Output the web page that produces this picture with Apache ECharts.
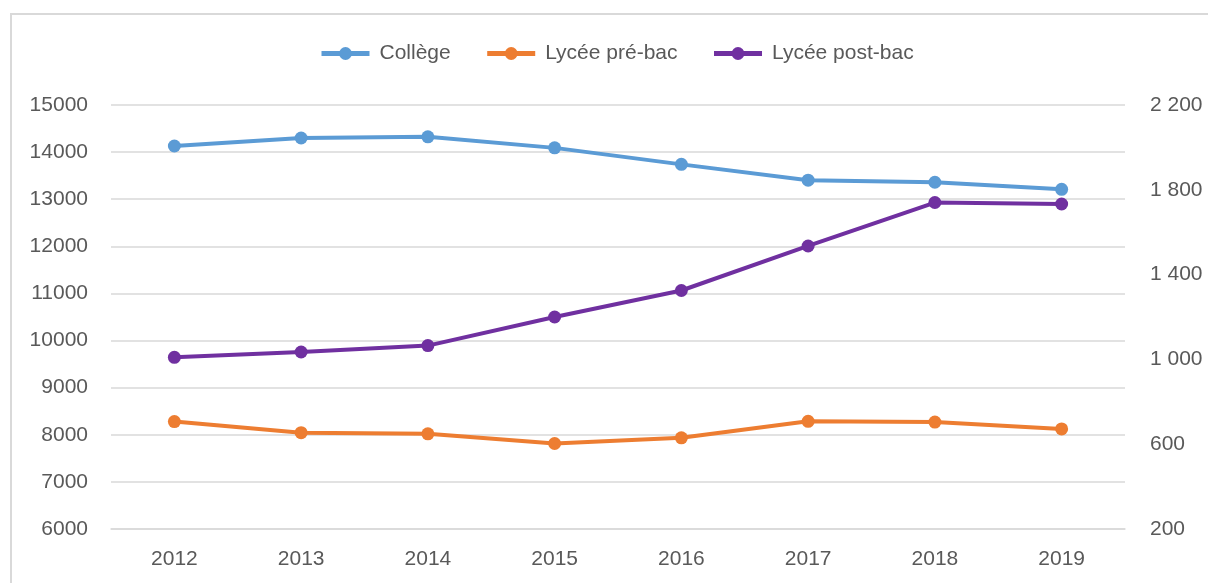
<!DOCTYPE html>
<html>
<head>
<meta charset="utf-8">
<script src="https://cdn.jsdelivr.net/npm/echarts@6/dist/echarts.min.js"></script>
<style>
  html, body { margin: 0; padding: 0; background: #fff; }
  #chart { width: 1208px; height: 583px; }
</style>
</head>
<body>
<div id="chart"></div>
<script>
// données
const years = ['2012', '2013', '2014', '2015', '2016', '2017', '2018', '2019']
const college = [14130, 14300, 14325, 14090, 13740, 13405, 13360, 13210]
const lyceePreBac = [8280, 8045, 8020, 7815, 7935, 8285, 8270, 8125]
const lyceePostBac = [1010, 1035, 1065, 1200, 1325, 1535, 1740, 1733]

const fontFamily = '"Liberation Sans", Arial, sans-serif'
const textColor = '#595959'

let mycharts = echarts.init(document.getElementById('chart'))

function lineSerie(name, data, color, axis) {
  return {
    name: name,
    type: 'line',
    data: data,
    yAxisIndex: axis,
    symbol: 'circle',
    symbolSize: 13,
    lineStyle: { width: 4, color: color },
    itemStyle: { color: color },
    emphasis: { disabled: true },
  }
}

mycharts.setOption({
  animation: false,
  textStyle: { fontFamily: fontFamily },
  //cadre gris
  graphic: [
    {
      type: 'rect',
      shape: { x: 11, y: 14, width: 1300, height: 700 },
      style: { fill: 'none', stroke: '#d9d9d9', lineWidth: 2 },
      silent: true,
    },
  ],
  legend: {
    top: 38,
    left: 314,
    itemWidth: 48,
    itemHeight: 16,
    itemGap: 34,
    lineStyle: { width: 5 },
    textStyle: { fontSize: 21, color: textColor, fontFamily: fontFamily, padding: [0, 0, 0, 5] },
  },
  grid: {
    left: 111,
    right: 83,
    top: 105,
    bottom: 54,
  },
  xAxis: {
    type: 'category',
    data: years,
    axisLine: { show: true, lineStyle: { color: '#d9d9d9', width: 1.5 } },
    axisTick: { show: false },
    axisLabel: { fontSize: 21, color: textColor, margin: 20, fontFamily: fontFamily },
  },
  yAxis: [
    {
      type: 'value',
      min: 6000,
      max: 15000,
      interval: 1000,
      axisLine: { show: false },
      axisTick: { show: false },
      splitLine: { show: true, lineStyle: { color: '#d9d9d9', width: 1.5 } },
      axisLabel: {
        fontSize: 21,
        color: textColor,
        margin: 23,
        fontFamily: fontFamily,
        formatter: function (v) {
          return String(v)
        },
      },
    },
    {
      type: 'value',
      min: 200,
      max: 2200,
      interval: 400,
      axisLine: { show: false },
      axisTick: { show: false },
      splitLine: { show: false },
      axisLabel: {
        fontSize: 21,
        color: textColor,
        margin: 25,
        fontFamily: fontFamily,
        //séparateur de milliers : espace
        formatter: function (v) {
          return String(v).replace(/\B(?=(\d{3})+(?!\d))/g, ' ')
        },
      },
    },
  ],
  series: [
    lineSerie('Collège', college, '#5b9bd5', 0),
    lineSerie('Lycée pré-bac', lyceePreBac, '#ed7d31', 0),
    lineSerie('Lycée post-bac', lyceePostBac, '#7030a0', 1),
  ],
})
</script>
</body>
</html>
